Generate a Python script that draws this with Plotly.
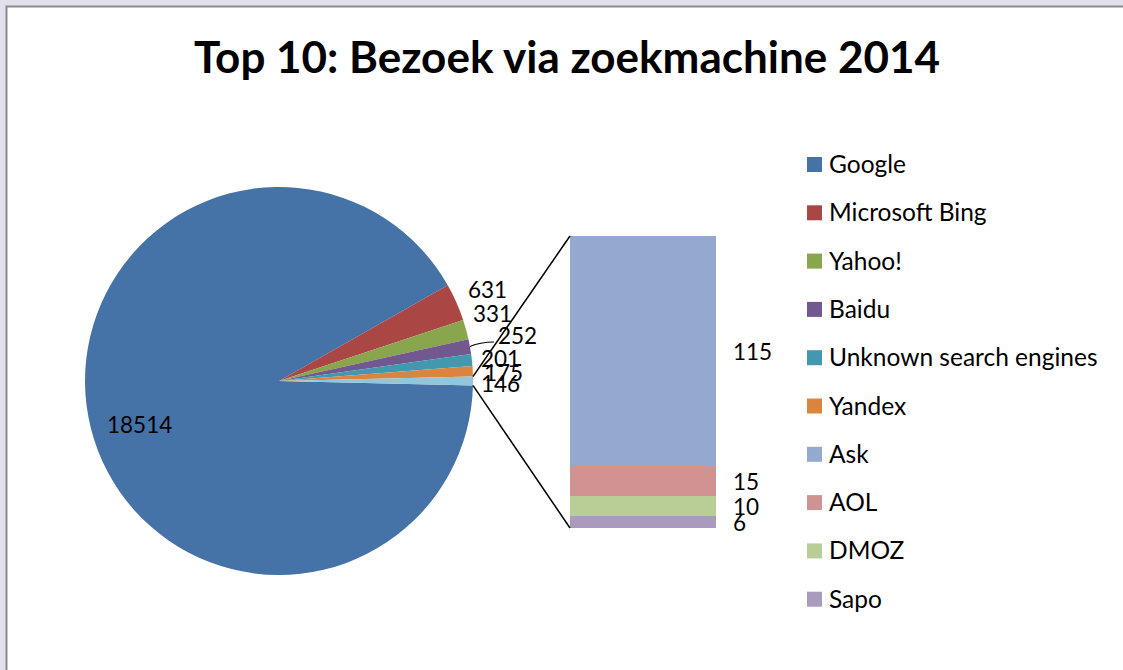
import math
import plotly.graph_objects as go

# ---------------- data ----------------
title_text = "Top 10: Bezoek via zoekmachine 2014"
pie_labels = ["Google", "Microsoft Bing", "Yahoo!", "Baidu", "Unknown search engines", "Yandex"]
pie_values = [18514, 631, 331, 252, 201, 175]
bar_labels = ["Ask", "AOL", "DMOZ", "Sapo"]
bar_values = [115, 15, 10, 6]
other_label = "Other"

pie_colors = ["#4572A7", "#AA4643", "#89A54E", "#71588F", "#4198AF", "#DB843D"]
bar_colors = ["#93A9CF", "#D19392", "#B9CD96", "#A99BBD"]
other_color = "#93C6D8"

W, H = 1123, 670
FONT = "Lato"


def X(px):
    return px / W


def Y(py):
    return 1 - py / H


other_value = sum(bar_values)
all_pie_values = pie_values + [other_value]
all_pie_labels = pie_labels + [other_label]
total = sum(all_pie_values)

# pie geometry (pixels)
cx, cy, r = 279, 381, 194
rotation = 90 + 180.0 * other_value / total

fig = go.Figure()

fig.add_trace(go.Pie(
    labels=all_pie_labels,
    values=all_pie_values,
    sort=False,
    direction="clockwise",
    rotation=rotation,
    marker=dict(colors=pie_colors + [other_color], line=dict(width=0)),
    textinfo="none",
    hoverinfo="label+value",
    showlegend=False,
    domain=dict(x=[X(cx - r), X(cx + r)], y=[Y(cy + r), Y(cy - r)]),
))

# stacked bar (bottom to top: Sapo, DMOZ, AOL, Ask)
for lab, val, col in reversed(list(zip(bar_labels, bar_values, bar_colors))):
    fig.add_trace(go.Bar(
        x=[0], y=[val], name=lab, width=1,
        marker=dict(color=col, line=dict(width=0)),
        showlegend=False, hoverinfo="name+y",
    ))

bar_left, bar_right, bar_top, bar_bottom = 570, 716, 236, 528

shapes = []
annotations = []

# white chart area with grey frame
shapes.append(dict(type="rect", xref="paper", yref="paper",
                   x0=X(6.5), x1=X(W + 10), y0=Y(H + 10), y1=Y(6.5),
                   fillcolor="white", line=dict(color="#8C8C8C", width=2),
                   layer="below"))

# connector lines from "other" slice to bar
half = math.pi * other_value / total
ux, uy = cx + r * math.cos(half), cy - r * math.sin(half)
lx, ly = cx + r * math.cos(half), cy + r * math.sin(half)
shapes.append(dict(type="line", xref="paper", yref="paper",
                   x0=X(ux), y0=Y(uy), x1=X(bar_left), y1=Y(bar_top),
                   line=dict(color="black", width=1.5)))
shapes.append(dict(type="line", xref="paper", yref="paper",
                   x0=X(lx), y0=Y(ly), x1=X(bar_left), y1=Y(bar_bottom),
                   line=dict(color="black", width=1.5)))

# leader line for Baidu label
cum = sum(pie_values[:3]) + pie_values[3] / 2.0
theta = math.radians(rotation + 360.0 * cum / total)
bx, by = cx + r * math.sin(theta), cy - r * math.cos(theta)
shapes.append(dict(type="path", xref="paper", yref="paper",
                   path="M {},{} Q {},{} {},{}".format(X(bx), Y(by), X(480), Y(342), X(494), Y(342)),
                   line=dict(color="black", width=1.2)))

NUM_SIZE = 22.5
# pie data labels (positions in pixels)
pie_label_pos = [(139, 424), (487, 289), (492, 313), (517, 335), (500, 358), (503, 372), (500, 383)]
for val, (px, py) in zip(all_pie_values, pie_label_pos):
    annotations.append(dict(x=X(px), y=Y(py), xref="paper", yref="paper",
                            text=str(val), showarrow=False,
                            xanchor="center", yanchor="middle",
                            font=dict(family=FONT, size=NUM_SIZE, color="black")))

# bar data labels at segment midpoints
base = 0
mids = {}
for lab, val in reversed(list(zip(bar_labels, bar_values))):
    mids[lab] = base + val / 2.0
    base += val
for lab, val in zip(bar_labels, bar_values):
    annotations.append(dict(x=0.5, y=mids[lab], xref="x", yref="y",
                            text=str(val), showarrow=False,
                            xanchor="left", yanchor="middle", xshift=15,
                            font=dict(family=FONT, size=NUM_SIZE, color="black")))

# legend (manual)
legend_labels = pie_labels + bar_labels
legend_colors = pie_colors + bar_colors
for i, (lab, col) in enumerate(zip(legend_labels, legend_colors)):
    yc = 164.5 + i * 48.3
    shapes.append(dict(type="rect", xref="paper", yref="paper",
                       x0=X(807), x1=X(822), y0=Y(yc + 7.5), y1=Y(yc - 7.5),
                       fillcolor=col, line=dict(width=0)))
    annotations.append(dict(x=X(827), y=Y(yc - 1), xref="paper", yref="paper",
                            text=lab, showarrow=False,
                            xanchor="left", yanchor="middle",
                            font=dict(family=FONT, size=24.5, color="black")))

# title
annotations.append(dict(x=X(567), y=Y(56), xref="paper", yref="paper",
                        text="<b>" + title_text + "</b>", showarrow=False,
                        xanchor="center", yanchor="middle",
                        font=dict(family=FONT, size=44, color="black")))

fig.update_layout(
    width=W, height=H,
    margin=dict(l=0, r=0, t=0, b=0),
    paper_bgcolor="#E4DFEC",
    plot_bgcolor="rgba(0,0,0,0)",
    barmode="stack",
    bargap=0,
    xaxis=dict(domain=[X(bar_left), X(bar_right)], range=[-0.5, 0.5],
               visible=False, fixedrange=True),
    yaxis=dict(domain=[Y(bar_bottom), Y(bar_top)], range=[0, other_value],
               visible=False, fixedrange=True),
    shapes=shapes,
    annotations=annotations,
    showlegend=False,
)

fig.write_html("out.html",
               config={"displayModeBar": False},
               post_script="document.body.style.margin='0';document.body.style.overflow='hidden';")
